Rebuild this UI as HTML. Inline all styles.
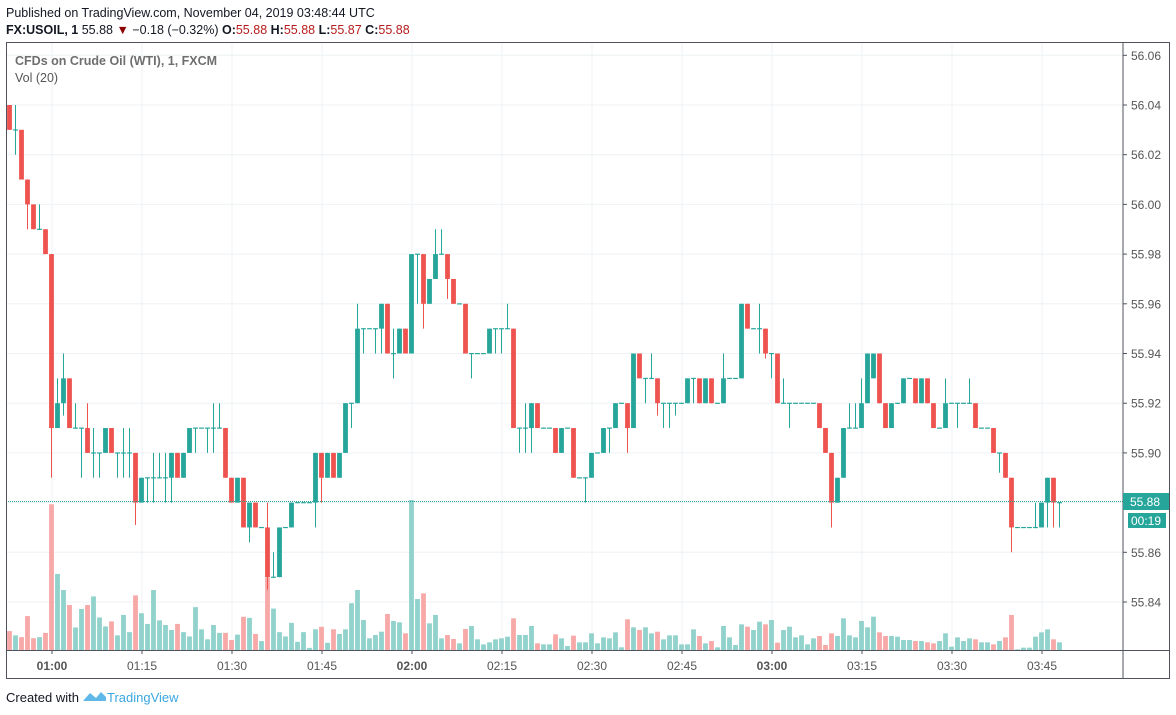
<!DOCTYPE html>
<html><head><meta charset="utf-8"><style>
html,body{margin:0;padding:0;background:#fff;width:1176px;height:715px;overflow:hidden}
svg{display:block}
text{font-family:"Liberation Sans",sans-serif}
</style></head><body>
<svg id="s" width="1176" height="715" xmlns="http://www.w3.org/2000/svg">
<rect width="1176" height="715" fill="#fff"/>
<text x="6" y="17" font-size="12.5" fill="#131722">Published on TradingView.com, November 04, 2019 03:48:44 UTC</text>
<text x="6" y="34" font-size="12.5" fill="#131722"><tspan font-weight="bold">FX:USOIL, 1</tspan> 55.88 <tspan fill="#8b0000">▼</tspan> −0.18 (−0.32%) <tspan font-weight="bold">O:</tspan><tspan fill="#b71c1c">55.88</tspan> <tspan font-weight="bold">H:</tspan><tspan fill="#b71c1c">55.88</tspan> <tspan font-weight="bold">L:</tspan><tspan fill="#b71c1c">55.87</tspan> <tspan font-weight="bold">C:</tspan><tspan fill="#b71c1c">55.88</tspan></text>
<g id="grid"></g>
<g id="vol"></g>
<g id="cnd"></g>
<line x1="6" y1="501.5" x2="1123" y2="501.5" stroke="#26a69a" stroke-width="1" stroke-dasharray="1,1"/>
<rect x="6.5" y="42.5" width="1163" height="636" fill="none" stroke="#50535e" stroke-width="1"/>
<line x1="1123" y1="42" x2="1123" y2="679" stroke="#50535e"/>
<line x1="6" y1="650.5" x2="1170" y2="650.5" stroke="#50535e"/>
<g id="axis"></g>
<rect x="1123" y="493" width="46" height="17" fill="#26a69a"/>
<text x="1130" y="506" font-size="12" fill="#fff">55.88</text>
<rect x="1128" y="513" width="38" height="15" fill="#26a69a"/>
<text x="1131" y="525" font-size="12" fill="#fff">00:19</text>
<text x="15" y="65" font-size="12.5" fill="#555" font-weight="bold" opacity="0.85">CFDs on Crude Oil (WTI), 1, FXCM</text>
<text x="15" y="82" font-size="12.5" fill="#555">Vol (20)</text>
<text x="6" y="702" font-size="13" fill="#131722">Created with</text>
<path d="M83 701 L90 693 L96 698 L101 692 L106 697 L106 701 Z" fill="#5fb8e8"/>
<text x="107" y="702" font-size="13" fill="#3ba6e0">TradingView</text>
</svg>
<script>
var NS="http://www.w3.org/2000/svg";
function el(p,t,a){var e=document.createElementNS(NS,t);for(var k in a)e.setAttribute(k,a[k]);p.appendChild(e);return e;}
function Y(c){return 105+(604-c)*24.85;}
var g=document.getElementById('grid'),ax=document.getElementById('axis');
var labs=["56.06","56.04","56.02","56.00","55.98","55.96","55.94","55.92","55.90","55.88","55.86","55.84"];
for(var i=0;i<12;i++){var p=606-2*i;var y=Y(p);
 el(g,'line',{x1:6,x2:1123,y1:y,y2:y,stroke:'#eef2f5','stroke-width':1});
 el(ax,'line',{x1:1123,x2:1127,y1:y,y2:y,stroke:'#50535e'});
 var t=el(ax,'text',{x:1131,y:y+4.5,'font-size':12,fill:'#555'});t.textContent=labs[i];}
var tl=["01:00","01:15","01:30","01:45","02:00","02:15","02:30","02:45","03:00","03:15","03:30","03:45"];
for(var i=0;i<12;i++){var x=52+90*i;
 el(g,'line',{x1:x,x2:x,y1:42,y2:650,stroke:'#eef2f5','stroke-width':1});
 el(ax,'line',{x1:x,x2:x,y1:650,y2:654,stroke:'#50535e'});
 var t=el(ax,'text',{x:x,y:670,'font-size':12,fill:'#555','text-anchor':'middle','font-weight':(i==0||i==4||i==8)?'bold':'normal'});t.textContent=tl[i];}
var C=[[604,603],[603,603,604,602],[603,601],[601,600,601,599],[600,599],[599,599,600,599],[599,598],[598,591,598,589],[591,592,593,591],[592,593,594,591.5],
[593,591],[591,591,592,591],[591,591,591,589],[591,590,592,590],[590,590,591,589],[590,590,590,589],[590,591],[591,590],[590,590,590,589],[590,590,591,589],
[590,590,591,589],[590,588,590,587.1],[588,589],[589,589,589,588],[589,589,590,588],[589,589,590,589],[589,589,590,588],[589,590,590,588],[590,589],[589,590],
[590,591],[591,591,591,590],[591,591],[591,591,591,590],[591,591,592,590],[591,591,592,591],[591,589],[589,588],[588,589],[589,587],
[587,588,588,586.4],[588,587],[587,587],[587,585,588,584.5],[585,585,586,585],[585,587],[587,587],[587,588],[588,588],[588,588],
[588,588],[588,590,590,587],[590,589,590,588],[589,590],[590,589],[589,590],[590,592],[592,592,592,591],[592,595,596,592],[595,595,595,594],
[595,595],[595,595,595,594],[595,596,596,594],[596,594],[594,594,595,593],[594,595],[595,594],[594,598],[598,598,598,596],[598,596,598,595],
[596,597],[597,598,599,597],[598,598,599,598],[598,597,598,596.2],[597,596],[596,596],[596,594],[594,594,594,593],[594,594],[594,594],
[594,595],[595,595,595,594],[595,595,595,594],[595,595,596,595],[595,591],[591,591,591,590],[591,591,592,590],[591,592,592,590],[592,591],[591,591],
[591,591],[591,590],[590,591],[591,591],[591,589],[589,589],[589,589,589,588],[589,590],[590,590],[590,591],
[591,591,591,590],[591,592],[592,592],[592,591,592,590],[591,594],[594,593],[593,593,593,592],[593,593,594,593],[593,592,593,591.5],[592,592,592,591],
[592,592,592,591],[592,592,592,591.5],[592,592],[592,593],[593,593,593,592],[593,592],[592,593],[593,592],[592,592],[592,593,594,592],
[593,593],[593,593],[593,596],[596,595],[595,595],[595,595,596,594],[595,594,595,593.8],[594,594,594,593],[594,592],[592,592,593,592],
[592,592,592,591],[592,592],[592,592],[592,592],[592,592],[592,591],[591,590],[590,588,590,587],[588,589],[589,591],
[591,591,592,591],[591,591,592,591],[591,592,593,591],[592,594],[593,594],[594,592],[592,591],[591,592],[592,592],[592,593],
[593,593],[593,592],[592,593],[593,592],[592,591],[591,591],[591,592,593,591],[592,592],[592,592,592,591],[592,592],
[592,592,593,592],[592,591],[591,591],[591,591],[591,590],[590,590,590,589.2],[590,589],[589,587,589,586],[587,587],[587,587],
[587,587],[587,587,588,587],[587,588],[588,589,589,587],[589,588,589,587],[588,588,588,587]];
var v1=[1515,1527,1532,1473,1535,1532,1520,1160,1355,1400,1442,1505,1453,1442,1418,1477,1502,1488,1527,1470,1518,1415,1465,1495,1400,1485,1498,1512,1495,1518,1530,1448,1510,1538,1498,1520,1520,1540,1525,1475,1478,1523,1543,1365,1452,1518,1530,1492,1545,1518,1562,1510,1503,1548,1510,1523,1510,1437,1400];
var v2=[1230,1285,1275,1265,1212,1233,1237,1270,870,1167,1150,1240,1215,1285,1275,1287,1300,1257,1248,1288,1303,1297,1288,1285,1280,1225,1275,1275,1248,1300,1303,1303,1273,1285,1308,1277,1297,1297,1270,1300,1282,1285,1267,1312,1228,1252,1260,1252,1270,1265,1288,1276,1276,1303,1303,1258,1278,1300,1293,1312,1248];
var v3=[1042,1065,1003,1010,1020,995,1003,990,1058,1020,1010,1042,1036,1063,1045,1038,1065,1030,1038,985,1036,1042,993,1012,980,1027,1038,1038,1040,1050,1050,1053,1053,1057,1060,1053,1030,1070,1042,1053,1045,1048,1057,1057,1063,1053,1042,975,1078,1073,1073,1040,1027,1018,1048,1057];
var V=[];v1.forEach(function(t){V.push((1568-t)/2.8);});v2.forEach(function(t){V.push((1320-t)/3);});v3.forEach(function(t){V.push((1080-t)/3);});
var cg=document.getElementById('cnd'),vg=document.getElementById('vol');
for(var i=0;i<C.length;i++){
 var c=C[i],o=c[0],cl=c[1],h=c.length>2?c[2]:Math.max(o,cl),l=c.length>3?c[3]:Math.min(o,cl);
 h=Math.max(h,o,cl);l=Math.min(l,o,cl);
 var x=9.5+i*6,up=cl>=o,col=up?'#26a69a':'#ef5350';
 var vh=V[i]||5;
 el(vg,'rect',{x:x-2.4,y:650-vh,width:4.8,height:vh,fill:up?'#92d2cc':'#f7a9a7'});
 if(h!=l)el(cg,'line',{x1:x,x2:x,y1:Y(h),y2:Y(l),stroke:col,'stroke-width':1});
 if(o==cl){el(cg,'rect',{x:x-2.4,y:Y(o)-0.5,width:4.8,height:1.2,fill:col});}
 else{var y1=Y(Math.max(o,cl)),y2=Y(Math.min(o,cl));el(cg,'rect',{x:x-2.4,y:y1,width:4.8,height:y2-y1,fill:col});}
}
</script>
</body></html>
